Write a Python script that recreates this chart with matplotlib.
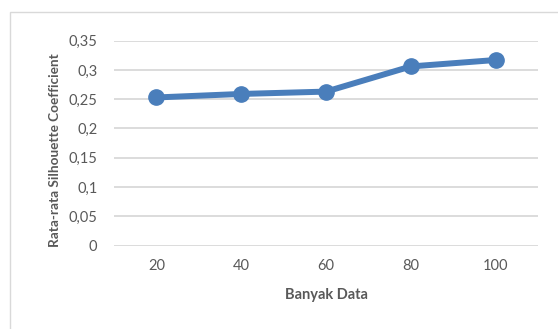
import matplotlib
matplotlib.use("Agg")
import matplotlib.pyplot as plt
from matplotlib.patches import Rectangle

# Average silhouette coefficient per dataset size
banyak_data = ["20", "40", "60", "80", "100"]
silhouette = [0.253, 0.259, 0.263, 0.306, 0.317]
y_ticks = [0, 0.05, 0.1, 0.15, 0.2, 0.25, 0.3, 0.35]
y_tick_labels = ["0", "0,05", "0,1", "0,15", "0,2", "0,25", "0,3", "0,35"]

TEXT = "#595959"
LINE = "#4a7ebb"
GRID = "#d9d9d9"

plt.rcParams["font.family"] = ["Lato", "DejaVu Sans"]

W, H = 558, 329
fig = plt.figure(figsize=(W / 100, H / 100), dpi=100)
fig.patch.set_facecolor("white")

# chart frame
fig.patches.append(Rectangle((9.5 / W, -0.2), 1.2, 1.2 - 11.5 / H,
                             transform=fig.transFigure, fill=False,
                             edgecolor=GRID, linewidth=1.0))

ax = fig.add_axes([114 / W, 83.5 / H, 424 / W, 204.8 / H])
x = list(range(len(banyak_data)))
ax.plot(x, silhouette, color=LINE, linewidth=4.3, marker="o",
        markersize=11, markerfacecolor=LINE, markeredgecolor=LINE,
        solid_capstyle="round", zorder=3, clip_on=False)

ax.set_xlim(-0.5, len(banyak_data) - 0.5)
ax.set_ylim(0, 0.35)
ax.set_xticks(x)
ax.set_xticklabels(banyak_data)
ax.set_yticks(y_ticks)
ax.set_yticklabels(y_tick_labels)

for s in ax.spines.values():
    s.set_visible(False)
ax.grid(axis="y", color=GRID, linewidth=1.3)
ax.set_axisbelow(True)
ax.tick_params(axis="both", length=0, labelsize=10.5, labelcolor=TEXT)
ax.tick_params(axis="y", pad=12)
ax.tick_params(axis="x", pad=10)

ax.set_xlabel("Banyak Data", fontsize=10.5, fontweight="bold", color=TEXT,
              va="center")
ax.xaxis.set_label_coords(0.5, -0.242)
ax.set_ylabel("Rata-rata Silhouette Coefficient", fontsize=9.8,
              fontweight="bold", color=TEXT, va="center")
ax.yaxis.set_label_coords(-0.139, 0.466)

fig.savefig("out.png", dpi=100, facecolor="white")
